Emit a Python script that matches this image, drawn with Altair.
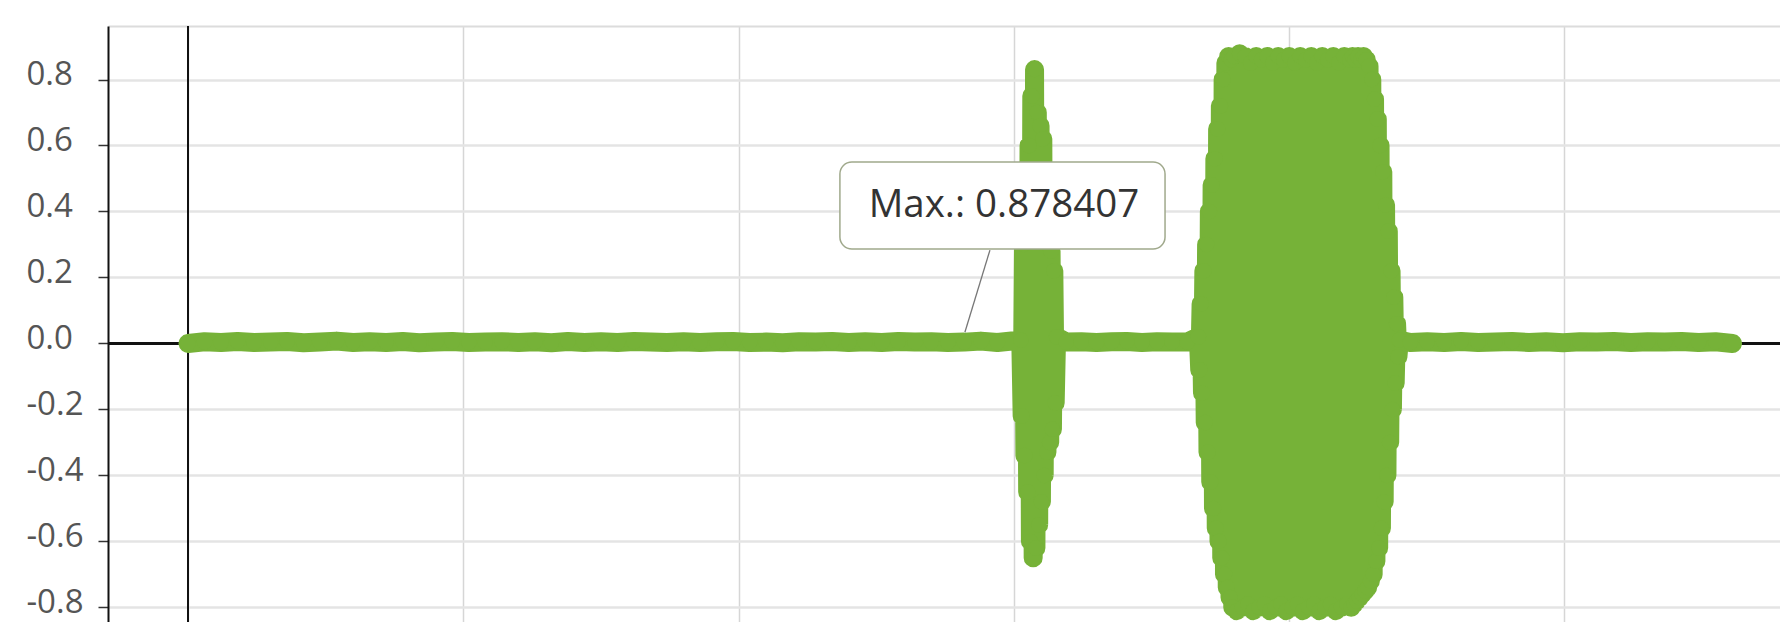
import altair as alt
import numpy as np
import pandas as pd

GREEN = "#76b238"

# signal segments: (start time, sample step, values)
noise_a = [0.0, 0.005, 0.003, 0.006, 0.003, 0.004, 0.006, 0.002, 0.004, 0.007,
           0.003, 0.005, 0.003, 0.006, 0.002, 0.004, 0.006, 0.003, 0.004, 0.005,
           0.003, 0.005, 0.002, 0.006, 0.003, 0.005, 0.003, 0.006, 0.004, 0.003,
           0.005, 0.003, 0.005, 0.006, 0.003, 0.004, 0.002, 0.005, 0.004, 0.006,
           0.003, 0.005, 0.003, 0.006, 0.004, 0.005, 0.003, 0.004, 0.007, 0.003]
burst_1 = [0.01, -0.22, 0.30, -0.34, 0.45, -0.45, 0.60, -0.60, 0.75, -0.65,
           0.83, -0.62, 0.70, -0.55, 0.66, -0.48, 0.62, -0.40, 0.45, -0.33,
           0.30, -0.30, 0.28, -0.26, 0.22, -0.18, 0.02]
noise_b = [0.004, 0.005, 0.003, 0.005, 0.006, 0.003, 0.005, 0.004, 0.004]
burst_2_rise = [0.02, -0.08, 0.12, -0.15, 0.22, -0.24, 0.30, -0.33, 0.40, -0.42,
                0.48, -0.50, 0.56, -0.56, 0.65, -0.60, 0.72, -0.65, 0.80, -0.70,
                0.85, -0.74, 0.87, -0.77, 0.86, -0.80, 0.87]
burst_2_flat = [-0.81, 0.878407, -0.80, 0.87, -0.79, 0.85, -0.81, 0.87, -0.80, 0.86,
                -0.79, 0.87, -0.81, 0.85, -0.80, 0.87, -0.79, 0.86, -0.81, 0.87,
                -0.80, 0.85, -0.79, 0.87, -0.81, 0.86, -0.80, 0.87, -0.79, 0.85,
                -0.81, 0.87, -0.80, 0.86, -0.79, 0.87, -0.81, 0.85, -0.80, 0.87,
                -0.79, 0.86]
burst_2_fall = [-0.80, 0.87, -0.79, 0.86, -0.78, 0.87, -0.77, 0.86, -0.76, 0.87,
                -0.75, 0.86, -0.74, 0.84, -0.72, 0.80, -0.70, 0.74, -0.66, 0.68,
                -0.62, 0.60, -0.56, 0.52, -0.48, 0.42, -0.40, 0.34, -0.30, 0.22,
                -0.20, 0.14, -0.12, 0.06, -0.04, 0.01]
noise_c = [0.003, 0.005, 0.003, 0.006, 0.003, 0.004, 0.006, 0.003, 0.005, 0.002,
           0.005, 0.004, 0.006, 0.003, 0.005, 0.004, 0.006, 0.003, 0.005, 0.0]

segments = [(0.0, 0.06, noise_a), (3.025, 0.005, burst_1), (3.19, 0.055, noise_b),
            (3.67, 0.005, burst_2_rise), (3.81, 0.01, burst_2_flat),
            (4.225, 0.005, burst_2_fall), (4.44, 0.0616, noise_c)]

y_ticks = [-0.8, -0.6, -0.4, -0.2, 0.0, 0.2, 0.4, 0.6, 0.8]
x_grid = [0, 1, 2, 3, 4, 5]
max_label = "Max.: 0.878407"

xs, ys = [], []
for start, step, vals in segments:
    xs.extend(list(start + step * np.arange(len(vals))))
    ys.extend(vals)
df = pd.DataFrame({"t": xs, "v": ys, "i": range(len(xs))})

X_DOM = [-0.2906, 5.7828]
Y_DOM = [-0.8444, 0.9622]

xs_ = alt.Scale(domain=X_DOM, nice=False, zero=False)
ys_ = alt.Scale(domain=Y_DOM, nice=False, zero=False)

base = alt.Chart(df)

grid = alt.Chart(pd.DataFrame({"g": x_grid})).mark_rule(opacity=0).encode(
    x=alt.X("g:Q", scale=xs_,
            axis=alt.Axis(orient="top", values=x_grid, labels=False, ticks=False,
                          grid=True, gridColor="#d6d6d6", gridWidth=1.5,
                          domain=True, domainColor="#dcdcdc", domainWidth=2,
                          title=None)),
    y=alt.Y("y0:Q", scale=ys_,
            axis=alt.Axis(orient="left", values=y_ticks, grid=True,
                          gridColor="#e4e4e4", gridWidth=2.5,
                          domainColor="#111", domainWidth=2,
                          tickColor="#333", tickSize=10, tickWidth=1.5,
                          labelAlign="left", labelPadding=72,
                          labelFont="Open Sans", labelFontSize=33,
                          labelColor="#555", labelOffset=-5,
                          labelExpr="(datum.value < 0 ? '-' : '') + format(abs(datum.value), '.1f')",
                          title=None)),
).transform_calculate(y0="0")

zero_h = alt.Chart(pd.DataFrame({"z": [0.0]})).mark_rule(color="#111", strokeWidth=3).encode(
    y=alt.Y("z:Q", scale=ys_))
zero_v = alt.Chart(pd.DataFrame({"z": [0.0]})).mark_rule(color="#111", strokeWidth=2).encode(
    x=alt.X("z:Q", scale=xs_))

line = base.mark_line(color=GREEN, strokeWidth=19, strokeJoin="round",
                      strokeCap="round", clip=True).encode(
    x=alt.X("t:Q", scale=xs_), y=alt.Y("v:Q", scale=ys_), order="i:Q")
pts = base.mark_circle(color=GREEN, size=240, opacity=1, clip=True).encode(
    x=alt.X("t:Q", scale=xs_), y=alt.Y("v:Q", scale=ys_))

ann = pd.DataFrame({"x1": [2.368], "x2": [3.549], "y1": [0.286], "y2": [0.550],
                    "tx": [2.964], "ty": [0.420], "lbl": [max_label],
                    "lx1": [2.913], "ly1": [0.283], "lx2": [2.822], "ly2": [0.034]})
conn = alt.Chart(ann).mark_rule(color="#777", strokeWidth=1.3).encode(
    x=alt.X("lx1:Q", scale=xs_), y=alt.Y("ly1:Q", scale=ys_),
    x2="lx2:Q", y2="ly2:Q")
box = alt.Chart(ann).mark_rect(fill="white", stroke="#a0a98c", strokeWidth=1.5,
                               cornerRadius=12).encode(
    x=alt.X("x1:Q", scale=xs_), x2="x2:Q",
    y=alt.Y("y1:Q", scale=ys_), y2="y2:Q")
txt = alt.Chart(ann).mark_text(font="Open Sans", fontSize=38.5, color="#333",
                               align="center", baseline="middle").encode(
    x=alt.X("tx:Q", scale=xs_), y=alt.Y("ty:Q", scale=ys_), text="lbl:N")

chart = alt.layer(grid, zero_h, zero_v, line, pts, conn, box, txt).properties(
    width=1672, height=596,
    autosize=alt.AutoSizeParams(type="none"),
    padding={"left": 108, "top": 26, "right": 0, "bottom": 0},
    background="white",
).configure_view(stroke=None)

chart.save("out.html", embed_options={"renderer": "svg", "actions": False})
